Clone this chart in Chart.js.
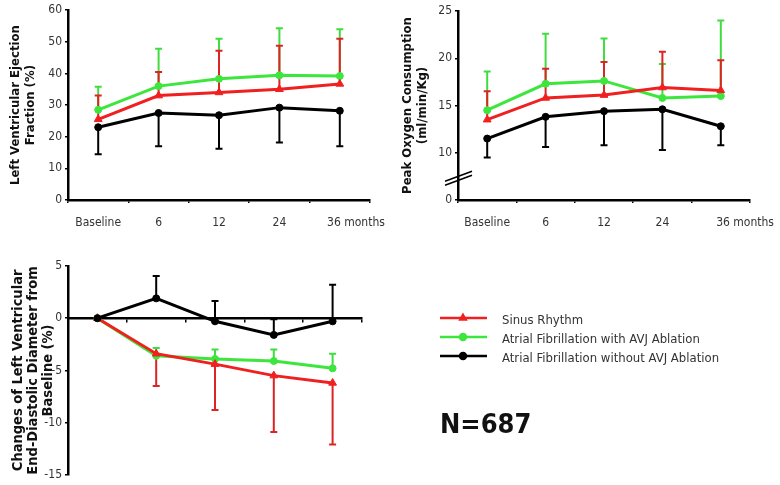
<!DOCTYPE html>
<html>
<head>
<meta charset="utf-8">
<script src="https://cdn.jsdelivr.net/npm/chart.js@4/dist/chart.umd.min.js"></script>
<style>
  body { margin: 0; background: #fff; }
  #wrap { position: relative; width: 780px; height: 485px; overflow: hidden; }
  canvas { position: absolute; }
</style>
</head>
<body>
<div id="wrap">
  <canvas id="lvef" width="390" height="240" style="left:0;top:0"></canvas>
  <canvas id="vo2" width="390" height="240" style="left:390px;top:0"></canvas>
  <canvas id="lvedd" width="780" height="245" style="left:0;top:240px"></canvas>
</div>
<script>
const timepoints = ['Baseline', '6', '12', '24', '36 months'];
const seriesNames = ['Sinus Rhythm', 'Atrial Fibrillation with AVJ Ablation', 'Atrial Fibrillation without AVJ Ablation'];

// Left ventricular ejection fraction (%)
const lvefSinus = [25.5, 33, 34, 35, 36.7];
const lvefAvj = [28.5, 36, 38.3, 39.4, 39.2];
const lvefNoAvj = [23, 27.5, 26.8, 29.2, 28.2];
const lvefSinusErr = [33, 40.5, 47.2, 48.8, 51];   // end of error bar
const lvefAvjErr = [35.8, 47.8, 51, 54.3, 54];
const lvefNoAvjErr = [14.5, 17, 16.2, 18.2, 17];
const lvefTicks = [0, 10, 20, 30, 40, 50, 60];

// Peak oxygen consumption (ml/min/Kg) - axis is broken below 10
const vo2Sinus = [13.5, 15.8, 16.1, 16.9, 16.6];
const vo2Avj = [14.5, 17.3, 17.6, 15.8, 16];
const vo2NoAvj = [11.5, 13.8, 14.4, 14.6, 12.8];
const vo2SinusErr = [16.5, 18.9, 19.6, 20.7, 19.8];
const vo2AvjErr = [18.6, 22.6, 22.1, 19.4, 24];
const vo2NoAvjErr = [9.5, 10.6, 10.8, 10.3, 10.8];
const vo2Ticks = [5, 10, 15, 20, 25];
const vo2TickLabels = ['0', '10', '15', '20', '25'];

// Change of LV end-diastolic diameter from baseline (%)
const lveddSinus = [0, -3.4, -4.4, -5.5, -6.2];
const lveddAvj = [0, -3.6, -3.9, -4.1, -4.8];
const lveddNoAvj = [0, 1.9, -0.3, -1.6, -0.3];
const lveddSinusErr = [null, -6.5, -8.8, -10.9, -12.1];
const lveddAvjErr = [null, -2.85, -3.0, -3.0, -3.4];
const lveddNoAvjErr = [null, 4.05, 1.65, -0.1, 3.2];
const lveddTicks = [-15, -10, -5, 0, 5];

const RED = '#f02020';
const GREEN = '#3de63d';
const BLACK = '#000000';
const FONT = "'DejaVu Sans Condensed', 'DejaVu Sans', sans-serif";

function makeDatasets(sinus, avj, noAvj, errs) {
  return [
    { label: seriesNames[0], data: sinus, errorEnds: errs[0], barColor: '#dc2424', borderColor: RED, backgroundColor: RED,
      pointStyle: 'triangle', pointRadius: 4.5, pointBorderWidth: 1, borderWidth: 3, order: 1 },
    { label: seriesNames[1], data: avj, errorEnds: errs[1], barColor: '#40dd40', borderColor: GREEN, backgroundColor: GREEN,
      pointStyle: 'circle', pointRadius: 3.5, pointBorderWidth: 1, borderWidth: 3, order: 2 },
    { label: seriesNames[2], data: noAvj, errorEnds: errs[2], barColor: BLACK, borderColor: BLACK, backgroundColor: BLACK,
      pointStyle: 'circle', pointRadius: 3.5, pointBorderWidth: 1, borderWidth: 3, order: 0 }
  ];
}

// one-sided error bars, drawn under the lines (green, then red, then black)
const errorBars = {
  id: 'errorBars',
  beforeDatasetsDraw(chart) {
    const { ctx, scales: { x, y } } = chart;
    ctx.save();
    [1, 0, 2].forEach(i => {
      const ds = chart.data.datasets[i];
      ctx.strokeStyle = ds.barColor;
      ctx.lineWidth = 2;
      ds.errorEnds.forEach((end, j) => {
        if (end == null) return;
        const px = x.getPixelForValue(j);
        const y0 = y.getPixelForValue(ds.data[j]);
        const y1 = y.getPixelForValue(end);
        ctx.beginPath();
        ctx.moveTo(px, y0);
        ctx.lineTo(px, y1);
        ctx.moveTo(px - 3.5, y1);
        ctx.lineTo(px + 3.5, y1);
        ctx.stroke();
      });
    });
    ctx.restore();
  }
};

// the // marks on the broken oxygen axis
const axisBreak = {
  id: 'axisBreak',
  afterDraw(chart) {
    const { ctx, scales: { y } } = chart;
    const px = y.right;
    const py = y.getPixelForValue(7.3);
    ctx.save();
    ctx.strokeStyle = '#000';
    ctx.lineWidth = 1.5;
    [-2, 2].forEach(d => {
      ctx.beginPath();
      ctx.moveTo(px - 13, py + 5 + d);
      ctx.lineTo(px + 14, py - 5 + d);
      ctx.stroke();
    });
    ctx.restore();
  }
};

// legend and sample size next to the bottom panel
const sideLegend = {
  id: 'sideLegend',
  afterDraw(chart) {
    const ctx = chart.ctx;
    ctx.save();
    chart.data.datasets.forEach((ds, i) => {
      const yy = 78 + i * 19;
      ctx.strokeStyle = ds.borderColor;
      ctx.fillStyle = ds.borderColor;
      ctx.lineWidth = 2.5;
      ctx.beginPath();
      ctx.moveTo(440, yy);
      ctx.lineTo(487, yy);
      ctx.stroke();
      Chart.helpers.drawPoint(ctx, { pointStyle: ds.pointStyle, radius: 3, borderWidth: 1, rotation: 0 }, 463, yy);
      ctx.fillStyle = '#333';
      ctx.font = '13px ' + FONT;
      ctx.textBaseline = 'middle';
      ctx.fillText(ds.label, 502, yy + 3);
    });
    ctx.fillStyle = '#111';
    ctx.font = 'bold 27px ' + FONT;
    ctx.textBaseline = 'alphabetic';
    ctx.fillText('N=687', 440, 193);
    ctx.restore();
  }
};

function xAxis(lastPad, extra) {
  return Object.assign({
    type: 'category',
    offset: true,
    grid: { offset: true, drawOnChartArea: false, color: '#000', tickLength: 3, lineWidth: 1.5 },
    border: { color: '#000', width: 2.5 },
    ticks: {
      color: '#333', font: { family: FONT, size: 12 }, padding: 13, maxRotation: 0, autoSkip: false,
      callback: (v, i) => i === timepoints.length - 1 ? '\u2002'.repeat(lastPad) + timepoints[i] : timepoints[i]
    },
    afterFit: s => { s.height = 40; s.paddingLeft = 0; s.paddingRight = 0; }
  }, extra || {});
}

function yAxis(min, max, tickValues, title, titleSize, titlePad, labelFn) {
  return {
    min: min, max: max,
    afterBuildTicks: s => { s.ticks = tickValues.map(v => ({ value: v })); },
    grid: { drawOnChartArea: false, color: '#000', tickLength: 3, lineWidth: 1.5 },
    border: { color: '#000', width: 2.5 },
    ticks: { color: '#333', font: { family: FONT, size: 12 }, padding: 3, callback: labelFn || (v => v) },
    title: { display: true, text: title, color: '#111',
      font: { family: FONT, size: titleSize, weight: 'bold', lineHeight: 15 / titleSize },
      padding: { top: titlePad, bottom: 0 } },
    afterFit: s => { s.width = 68; }
  };
}

function baseOptions(padding, scales) {
  return {
    responsive: false, animation: false, devicePixelRatio: 1,
    layout: { padding: padding },
    plugins: { legend: { display: false }, tooltip: { enabled: false } },
    scales: scales
  };
}

new Chart(document.getElementById('lvef'), {
  type: 'line',
  data: { labels: timepoints, datasets: makeDatasets(lvefSinus, lvefAvj, lvefNoAvj, [lvefSinusErr, lvefAvjErr, lvefNoAvjErr]) },
  options: baseOptions({ left: 0, top: 9, right: 20, bottom: 0 }, {
    x: xAxis(6),
    y: yAxis(0, 60, lvefTicks, ['Left Ventricular Ejection', 'Fraction (%)'], 13, 8.5)
  }),
  plugins: [errorBars]
});

new Chart(document.getElementById('vo2'), {
  type: 'line',
  data: { labels: timepoints, datasets: makeDatasets(vo2Sinus, vo2Avj, vo2NoAvj, [vo2SinusErr, vo2AvjErr, vo2NoAvjErr]) },
  options: baseOptions({ left: 0, top: 11, right: 30, bottom: 0 }, {
    x: xAxis(9),
    y: yAxis(5, 25, vo2Ticks, ['Peak Oxygen Consumption', '(ml/min/Kg)'], 13, 10.5,
      v => vo2TickLabels[vo2Ticks.indexOf(v)])
  }),
  plugins: [errorBars, axisBreak]
});

new Chart(document.getElementById('lvedd'), {
  type: 'line',
  data: { labels: timepoints, datasets: makeDatasets(lveddSinus, lveddAvj, lveddNoAvj, [lveddSinusErr, lveddAvjErr, lveddNoAvjErr]) },
  options: baseOptions({ left: 0, top: 26, right: 418, bottom: 8 }, {
    x: xAxis(0, { position: { y: 0 }, ticks: { display: false }, afterFit: s => { s.paddingLeft = 0; s.paddingRight = 0; } }),
    y: yAxis(-15, 5, lveddTicks, ['Changes of Left Ventricular', 'End-Diastolic Diameter from', 'Baseline (%)'], 14.5, 10.5)
  }),
  plugins: [errorBars, sideLegend]
});
</script>
</body>
</html>
